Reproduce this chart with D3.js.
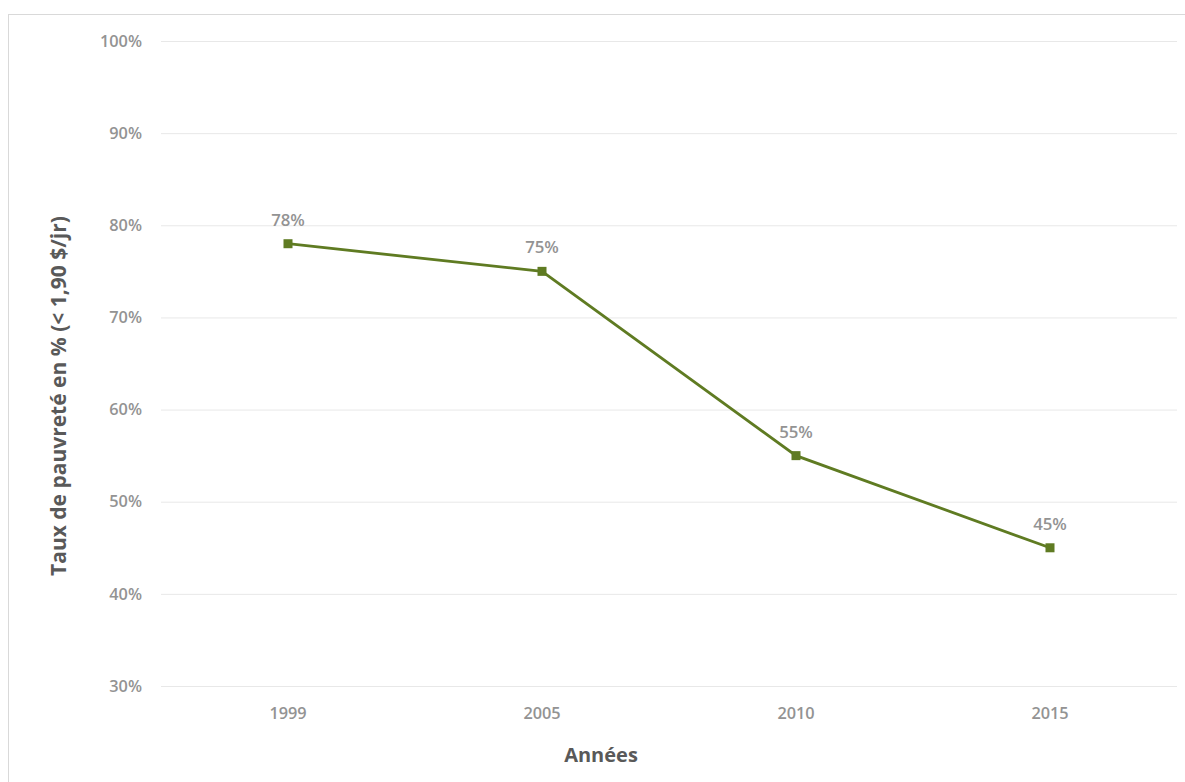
<!DOCTYPE html>
<html><head><meta charset="utf-8">
<script src="https://cdn.jsdelivr.net/npm/d3@7"></script>
<style>body{margin:0;background:#fff;}svg{display:block;}</style>
</head><body><svg id="c" width="1185" height="782"></svg>
<script>
const categories = ["1999", "2005", "2010", "2015"];
const values = [78, 75, 55, 45];
const yTicks = [30, 40, 50, 60, 70, 80, 90, 100];
const yTitle = "Taux de pauvreté en % (< 1,90 $/jr)";
const xTitle = "Années";

(function () {
const svg = d3.select("#c");
const font = "'Open Sans', 'Noto Sans', sans-serif";
svg.append("rect").attr("x", 8.5).attr("y", 14.5).attr("width", 1190).attr("height", 800)
  .attr("fill", "none").attr("stroke", "#d9d9d9").attr("stroke-width", 1);

const mLeft = 161, mRight = 1177, mTop = 41, mBottom = 686;
const x = d3.scaleBand().domain(categories).range([mLeft, mRight]);
const y = d3.scaleLinear().domain([30, 100]).range([mBottom, mTop]);

const yAxis = svg.append("g").attr("transform", `translate(${mLeft},0)`)
  .call(d3.axisLeft(y).tickValues(yTicks).tickFormat(d => d + "%").tickSize(-(mRight - mLeft)).tickPadding(19));
yAxis.select(".domain").remove();
yAxis.selectAll("line").attr("stroke", "#e8e8e8").attr("stroke-width", 1);
yAxis.selectAll("text").attr("fill", "#939393").attr("font-family", font).attr("font-size", 16.3).attr("font-weight", 600);

const xAxis = svg.append("g").attr("transform", `translate(0,${mBottom})`)
  .call(d3.axisBottom(x).tickSize(0).tickPadding(21));
xAxis.select(".domain").remove();
xAxis.selectAll("text").attr("fill", "#939393").attr("font-family", font).attr("font-size", 16.3).attr("font-weight", 600);

const cx = d => x(d) + x.bandwidth() / 2;
const line = d3.line().x((d, i) => cx(categories[i])).y(d => y(d));
svg.append("path").datum(values).attr("d", line).attr("fill", "none")
  .attr("stroke", "#5f7b22").attr("stroke-width", 2.8);
svg.selectAll("rect.m").data(values).join("rect").attr("class", "m")
  .attr("x", (d, i) => cx(categories[i]) - 4.5).attr("y", d => y(d) - 4.5)
  .attr("width", 9).attr("height", 9).attr("fill", "#5f7b22");
svg.selectAll("text.lbl").data(values).join("text").attr("class", "lbl")
  .attr("x", (d, i) => cx(categories[i])).attr("y", d => y(d) - 18)
  .attr("text-anchor", "middle").attr("fill", "#939393").attr("font-family", font)
  .attr("font-size", 16.8).attr("font-weight", 600).text(d => d + "%");

svg.append("text").attr("x", 601).attr("y", 762).attr("text-anchor", "middle")
  .attr("fill", "#595959").attr("font-family", font).attr("font-size", 20).attr("font-weight", 700).text(xTitle);
svg.append("text").attr("transform", "translate(66,396) rotate(-90)").attr("text-anchor", "middle")
  .attr("fill", "#595959").attr("font-family", font).attr("font-size", 21).attr("font-weight", 700).text(yTitle);
})();
</script></body></html>
